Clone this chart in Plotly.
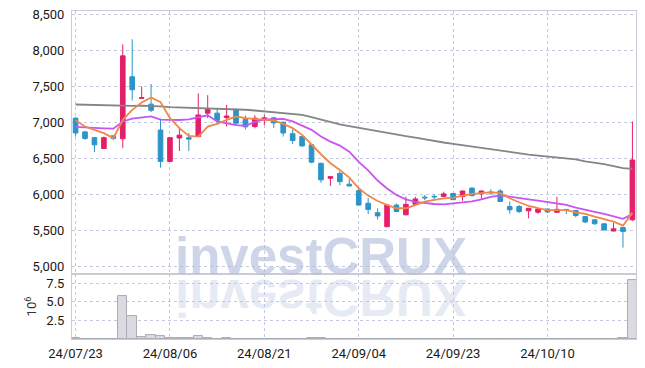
import plotly.graph_objects as go
from plotly.subplots import make_subplots

dates = ["2024-07-23","2024-07-24","2024-07-25","2024-07-26","2024-07-29","2024-07-30","2024-07-31",
         "2024-08-01","2024-08-02","2024-08-05","2024-08-06","2024-08-07","2024-08-08","2024-08-09",
         "2024-08-12","2024-08-13","2024-08-14","2024-08-16","2024-08-19","2024-08-20","2024-08-21",
         "2024-08-22","2024-08-23","2024-08-26","2024-08-27","2024-08-28","2024-08-29","2024-08-30",
         "2024-09-02","2024-09-03","2024-09-04","2024-09-05","2024-09-06","2024-09-09","2024-09-10",
         "2024-09-11","2024-09-12","2024-09-13","2024-09-19","2024-09-20","2024-09-23","2024-09-24",
         "2024-09-25","2024-09-26","2024-09-27","2024-09-30","2024-10-02","2024-10-04","2024-10-07",
         "2024-10-08","2024-10-10","2024-10-11","2024-10-14","2024-10-15","2024-10-16","2024-10-17",
         "2024-10-18","2024-10-21","2024-10-22","2024-10-23"]

open_ = [7055,6865,6785,6635,6810,6770,7630,7330,7250,6890,6455,6780,6785,6800,7125,7125,7065,7170,7040,6940,
         7035,7060,7000,6840,6800,6685,6430,6222,6290,6140,6050,5875,5745,5550,5850,5715,5860,5960,5970,5970,
         6010,5967,6085,6005,6030,6045,5830,5830,5770,5750,5795,5750,5790,5775,5690,5645,5590,5490,5540,5645]
high = [7070,6880,6790,6800,6815,8080,8150,7495,7530,7050,6790,6925,6850,7400,7375,7190,7240,7190,7090,7095,
        7100,7070,7005,6900,6805,6690,6435,6250,6320,6210,6080,5950,5805,5855,5870,5965,5965,5990,6000,6035,
        6020,6050,6095,6050,6070,6070,5900,5850,5810,5800,5800,5965,5795,5780,5695,5650,5595,5600,5545,7010]
low = [6800,6755,6585,6633,6750,6640,7300,7330,7140,6370,6450,6600,6600,6800,7055,6985,6940,6960,6900,6915,
       6960,6920,6800,6695,6660,6430,6160,6115,6125,6110,5850,5725,5650,5545,5755,5710,5860,5920,5910,5965,
       5920,5910,5975,5935,5990,5895,5730,5740,5665,5730,5740,5745,5725,5680,5600,5580,5500,5485,5260,5630]
close = [6850,6775,6685,6785,6775,7920,7450,7340,7165,6455,6785,6820,6765,7100,7175,7025,7085,6985,6935,7055,
         7060,6990,6850,6745,6670,6445,6200,6244,6175,6115,5850,5790,5700,5850,5760,5860,5935,5950,5965,6005,
         5925,6045,5980,6045,6020,5900,5785,5760,5805,5795,5755,5790,5775,5705,5615,5590,5505,5520,5485,6475]

ma5 = [7025,6939,6893,6847,6778,7032,7171,7272,7342,7278,7055,6917,6810,6800,6939,6975,7032,7078,7055,7042,
       7032,7023,6977,6917,6824,6685,6555,6430,6338,6230,6083,5981,5907,5852,5806,5806,5852,5898,5921,5944,
       5953,5981,6004,6014,6028,6014,5944,5889,5837,5806,5781,5781,5781,5750,5727,5690,5653,5620,5564,5745]
ma20 = [6935,6925,6920,6915,6910,7010,7050,7070,7080,7035,7030,7030,7040,7070,7095,7010,6985,6960,6950,7005,
        7040,7045,7045,7010,6950,6893,6800,6730,6675,6590,6450,6330,6190,6080,5990,5930,5895,5875,5865,5860,
        5875,5880,5900,5930,5965,5985,5970,5950,5930,5912,5895,5875,5852,5815,5780,5755,5727,5690,5660,5725]
ma120 = [7245,7242,7238,7232,7225,7222,7225,7228,7226,7218,7208,7204,7200,7196,7194,7190,7186,7180,7172,7162,
         7150,7138,7125,7112,7100,7070,7035,6995,6970,6945,6920,6895,6870,6847,6825,6805,6785,6760,6738,6718,
         6700,6680,6660,6640,6620,6600,6582,6565,6550,6535,6522,6510,6498,6485,6455,6440,6417,6390,6362,6351]

volume_m = [0.15,0,0,0,0,5.75,3.05,0.3,0.5,0.45,0.12,0.1,0.1,0.4,0.15,0,0.1,0,0,0,
            0,0,0,0,0,0.1,0.1,0,0,0,0,0,0,0,0,0,0,0,0,0,
            0,0,0,0,0,0,0,0,0,0,0,0,0,0,0,0,0,0,0.1,7.9]

tick_dates = ["2024-07-23","2024-08-06","2024-08-21","2024-09-04","2024-09-23","2024-10-10"]
tick_text = ["24/07/23","24/08/06","24/08/21","24/09/04","24/09/23","24/10/10"]
price_ticks = [5000,5500,6000,6500,7000,7500,8000,8500]
vol_ticks = [2.5,5.0,7.5]

UP = "#e61e69"
DOWN = "#2b95c9"
GRID = "#c4cadc"
AXIS = "#c9ccd4"
FONT = "Roboto"
TXT = "#1a1a1a"

fig = make_subplots(rows=2, cols=1, shared_xaxes=True, vertical_spacing=0, row_heights=[0.802, 0.198])

fig.add_trace(go.Candlestick(
    x=dates, open=open_, high=high, low=low, close=close,
    increasing=dict(line=dict(color=UP, width=1), fillcolor=UP),
    decreasing=dict(line=dict(color=DOWN, width=1), fillcolor=DOWN),
    whiskerwidth=0, hoverinfo="skip"), row=1, col=1)

fig.add_trace(go.Scatter(x=dates, y=ma120, mode="lines", line=dict(color="#858585", width=1.8)), row=1, col=1)
fig.add_trace(go.Scatter(x=dates, y=ma20, mode="lines", line=dict(color="#c855ef", width=1.8)), row=1, col=1)
fig.add_trace(go.Scatter(x=dates, y=ma5, mode="lines", line=dict(color="#f0874b", width=1.8)), row=1, col=1)

fig.add_trace(go.Bar(x=dates, y=volume_m, width=1,
                     marker=dict(color="#dadae0", line=dict(color="#acacb6", width=1))), row=2, col=1)

fig.update_layout(
    width=645, height=368,
    margin=dict(l=72, r=9, t=11, b=29, autoexpand=False),
    paper_bgcolor="white", plot_bgcolor="white",
    showlegend=False, bargap=0, boxgap=0.3,
    font=dict(family=FONT, size=13, color=TXT),
)

common_x = dict(type="category", categoryorder="array", categoryarray=dates,
                range=[-0.38, 59.38], showgrid=True, gridcolor=GRID, griddash="dot", gridwidth=1,
                showline=True, linecolor=AXIS, linewidth=1, mirror=True,
                tickvals=tick_dates, ticktext=tick_text, zeroline=False, automargin=False,
                rangeslider=dict(visible=False))
fig.update_xaxes(**common_x)
fig.update_xaxes(showticklabels=False, row=1, col=1)
fig.update_xaxes(ticks="outside", ticklen=2, tickcolor="rgba(0,0,0,0)",
                 tickfont=dict(family=FONT, size=13, color=TXT), row=2, col=1)

fig.update_yaxes(range=[4893, 8542], tickvals=price_ticks, tickformat=",d", automargin=False,
                 showgrid=True, gridcolor=GRID, griddash="dot", zeroline=False,
                 showline=True, linecolor=AXIS, mirror=True,
                 ticks="outside", ticklen=4, tickcolor="rgba(0,0,0,0)",
                 tickfont=dict(family=FONT, size=13, color=TXT), row=1, col=1)
fig.update_yaxes(range=[0, 8.7], tickvals=vol_ticks, tickformat=".1f", automargin=False,
                 showgrid=True, gridcolor=GRID, griddash="dot", zeroline=False,
                 showline=True, linecolor=AXIS, mirror=True,
                 ticks="outside", ticklen=4, tickcolor="rgba(0,0,0,0)",
                 tickfont=dict(family=FONT, size=13, color=TXT),
                 title=dict(text="10<sup>6</sup>", standoff=6, font=dict(family=FONT, size=13, color="#333333")),
                 row=2, col=1)

# watermark and its reflection
fig.add_annotation(text="investCRUX", xref="paper", yref="paper", x=0.4415, y=0.253,
                   xanchor="center", yanchor="middle", showarrow=False,
                   font=dict(family="Liberation Sans", size=51, color="rgba(176,188,220,0.62)", weight="bold"))
fig.add_annotation(text="investCRUX", xref="paper", yref="paper", x=0.4415, y=0.128,
                   xanchor="center", yanchor="middle", showarrow=False,
                   font=dict(family="Liberation Sans", size=51, color="rgba(190,200,226,0.38)", weight="bold"))

post = """
var gd = document.querySelectorAll('.js-plotly-plot')[0];
var anns = gd.querySelectorAll('g.annotation');
if (anns.length > 1) {
  var t = anns[1].querySelector('text');
  t.style.transformBox = 'fill-box';
  t.style.transformOrigin = 'center';
  t.style.transform = 'scaleY(-1)';
}
"""
fig.write_html("out.html", post_script=post)
